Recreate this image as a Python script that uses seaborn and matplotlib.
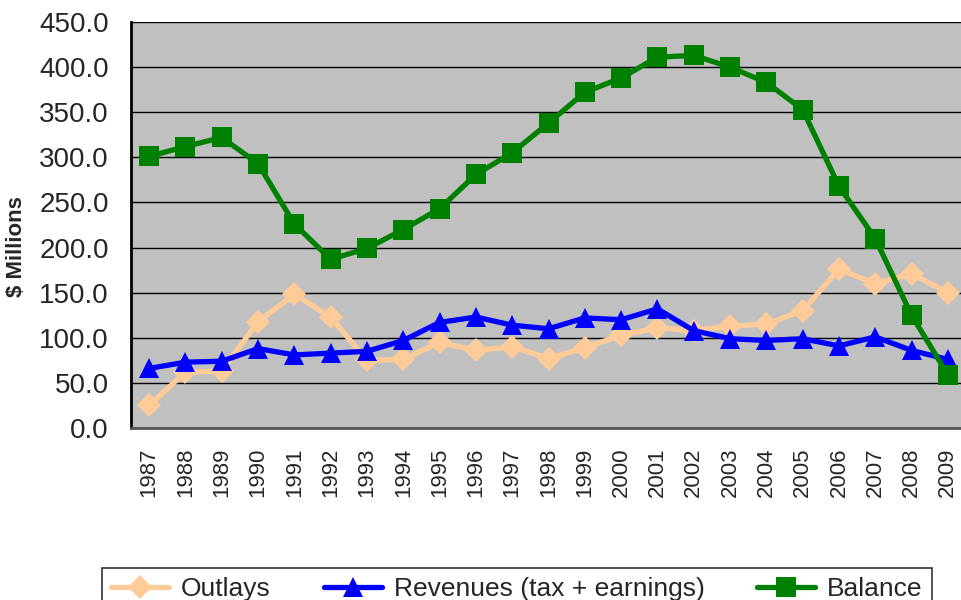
import numpy as np
import pandas as pd
import seaborn as sns
import matplotlib
matplotlib.use("Agg")
import matplotlib.pyplot as plt
from matplotlib.ticker import FixedLocator, MultipleLocator, FormatStrFormatter

years = list(range(1987, 2010))
outlays = [25, 62, 63, 118, 148, 123, 75, 76, 95, 86, 90, 77, 89, 103, 111, 108,
           113, 115, 130, 176, 160, 171, 150]
revenues = [66, 73, 74, 88, 81, 83, 85, 97, 117, 123, 114, 110, 122, 120, 132, 108,
            99, 97, 99, 91, 101, 86, 76]
balance = [301, 312, 322, 293, 226, 187, 199, 220, 243, 281, 305, 338, 372, 388, 411, 413,
           400, 383, 353, 268, 210, 125, 59]

df = pd.DataFrame({"Year": years, "Outlays": outlays,
                   "Revenues (tax + earnings)": revenues, "Balance": balance})
long = df.melt(id_vars="Year", var_name="Series", value_name="Value")

sns.set_style("white")
plt.rcParams['font.family'] = ['Liberation Sans', 'DejaVu Sans']

fig = plt.figure(figsize=(9.61, 6.0), dpi=100)
ax = fig.add_axes([131/961, 1-428/600, (966-131)/961, (428-22)/600])
ax.set_facecolor("#C0C0C0")

colors = {"Outlays": "#FFCC99", "Revenues (tax + earnings)": "#0000FF", "Balance": "#008000"}
markers = {"Outlays": "D", "Revenues (tax + earnings)": "^", "Balance": "s"}
sizes = {"Outlays": 12, "Revenues (tax + earnings)": 15, "Balance": 14.5}

for name in ["Outlays", "Revenues (tax + earnings)", "Balance"]:
    sub = long[long["Series"] == name]
    sns.lineplot(data=sub, x="Year", y="Value", ax=ax, color=colors[name],
                 linewidth=3.8, marker=markers[name], markersize=sizes[name],
                 markeredgewidth=0, label=name, clip_on=False, zorder=3)

ax.set_ylim(0, 450)
ax.set_xlim(1986.5, 2009.5)
ax.yaxis.set_major_locator(MultipleLocator(50))
ax.yaxis.set_major_formatter(FormatStrFormatter("%.1f"))
ax.grid(axis="y", color="black", linewidth=1)
ax.set_axisbelow(True)

ax.xaxis.set_major_locator(FixedLocator(years))
ax.set_xticklabels([str(y) for y in years], rotation=90)
ax.xaxis.set_minor_locator(FixedLocator([y + 0.5 for y in range(1986, 2010)]))
ax.tick_params(axis="x", which="major", length=0, labelsize=16, pad=14)
ax.tick_params(axis="x", which="minor", length=7, width=1.2, color="black", direction="out")
ax.tick_params(axis="y", which="major", length=6, width=1.2, color="black", direction="out",
               labelsize=20, pad=10)

for s in ["top", "right"]:
    ax.spines[s].set_visible(False)
ax.spines["left"].set_color("black")
ax.spines["left"].set_linewidth(2)
ax.spines["bottom"].set_color("#555555")
ax.spines["bottom"].set_linewidth(2)

ax.set_xlabel("")
ax.set_ylabel(r"\$ Millions", fontsize=16, fontweight="bold")
ax.yaxis.set_label_coords(-0.125, 0.448)

ax.get_legend().remove()
handles, labels = ax.get_legend_handles_labels()
leg = fig.legend(handles, labels, loc="upper center", bbox_to_anchor=(0.538, 1-568/600),
                 ncol=3, frameon=True, fancybox=False, edgecolor="black",
                 fontsize=19, handlelength=2.2, columnspacing=2.0, handletextpad=0.45,
                 borderpad=0.35, borderaxespad=0)
leg.get_frame().set_linewidth(1.2)

fig.savefig("out.png", dpi=100)
